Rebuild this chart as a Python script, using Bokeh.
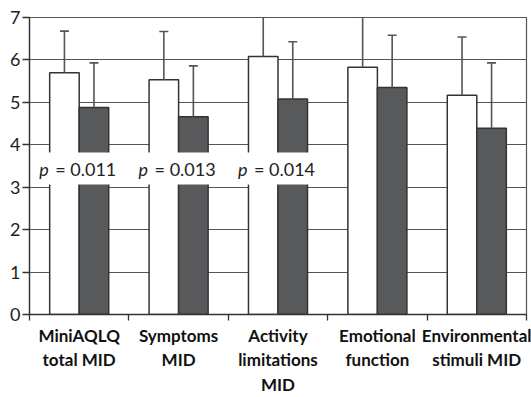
from bokeh.plotting import figure
from bokeh.models import ColumnDataSource, FixedTicker, Label
from bokeh.transform import dodge
from bokeh.embed import file_html
from bokeh.resources import INLINE

categories = ["MiniAQLQ\ntotal MID", "Symptoms\nMID", "Activity\nlimitations\nMID",
              "Emotional\nfunction", "Environmental\nstimuli MID"]
white_mean = [5.70, 5.53, 6.08, 5.83, 5.17]
white_sd = [0.98, 1.14, 1.10, 1.19, 1.37]
dark_mean = [4.88, 4.66, 5.08, 5.35, 4.39]
dark_sd = [1.05, 1.20, 1.35, 1.23, 1.54]
p_values = ["0.011", "0.013", "0.014", None, None]
y_ticks = [0, 1, 2, 3, 4, 5, 6, 7]

n = len(categories)
xc = [i + 0.5 for i in range(n)]
src = ColumnDataSource(dict(
    x=xc,
    wm=white_mean, wt=[m + s for m, s in zip(white_mean, white_sd)],
    dm=dark_mean, dt=[m + s for m, s in zip(dark_mean, dark_sd)],
))

FONT = "Lato"
p = figure(width=531, height=397, x_range=(0, n), y_range=(0, 7),
           output_backend="svg", toolbar_location=None,
           min_border_left=29, min_border_right=5, min_border_top=17, min_border_bottom=10)

BW = 0.297
p.vbar(x=dodge("x", -BW / 2), top="wm", bottom=0, width=BW, source=src,
       fill_color="white", line_color="#333333", line_width=1.5)
p.vbar(x=dodge("x", BW / 2), top="dm", bottom=0, width=BW, source=src,
       fill_color="#58595b", line_color="#333333", line_width=1.5)

for col_m, col_t, off in (("wm", "wt", -BW / 2), ("dm", "dt", BW / 2)):
    p.segment(x0=dodge("x", off), y0=col_m, x1=dodge("x", off), y1=col_t, source=src,
              line_color="#555555", line_width=1.6)
    p.scatter(x=dodge("x", off), y=col_t, marker="dash", size=9, source=src,
              line_color="#555555", line_width=1.6)

for i, pv in enumerate(p_values):
    if pv is None:
        continue
    lab1 = Label(x=xc[i], y=3.44, text="p", text_font=FONT, text_font_style="italic",
                 text_font_size="18px", text_color="#222222", text_baseline="middle",
                 text_align="left", x_offset=-45, background_fill_color="white",
                 padding=5)
    lab2 = Label(x=xc[i], y=3.44, text="= " + pv, text_font=FONT,
                 text_font_size="18px", text_color="#222222", text_baseline="middle",
                 text_align="left", x_offset=-29, background_fill_color="white",
                 padding=5)
    p.add_layout(lab1)
    p.add_layout(lab2)

# y axis
p.yaxis.ticker = FixedTicker(ticks=y_ticks)
p.yaxis.minor_tick_line_color = None
p.yaxis.major_tick_out = 7
p.yaxis.major_tick_in = 0
p.yaxis.major_label_standoff = 2
p.yaxis.axis_line_color = "#333333"
p.yaxis.major_tick_line_color = "#333333"
p.yaxis.axis_line_width = 1.3
p.yaxis.major_tick_line_width = 1.3
p.yaxis.major_label_text_font = FONT
p.yaxis.major_label_text_font_size = "18px"
p.yaxis.major_label_text_color = "#222222"

# x axis: labels at centers, ticks at boundaries
p.xaxis.ticker = FixedTicker(ticks=xc, minor_ticks=list(range(n + 1)))
p.xaxis.major_label_overrides = {x: c for x, c in zip(xc, categories)}
p.xaxis.major_tick_line_color = None
p.xaxis.major_tick_out = 0
p.xaxis.major_tick_in = 0
p.xaxis.minor_tick_out = 6
p.xaxis.minor_tick_in = 0
p.xaxis.minor_tick_line_color = "#333333"
p.xaxis.minor_tick_line_width = 1.3
p.xaxis.axis_line_color = "#333333"
p.xaxis.axis_line_width = 1.3
p.xaxis.major_label_standoff = 4
p.xaxis.major_label_text_font = FONT
p.xaxis.major_label_text_font_style = "bold"
p.xaxis.major_label_text_font_size = "17px"
p.xaxis.major_label_text_color = "#111111"
p.xaxis.major_label_text_line_height = 1.17

p.xgrid.grid_line_color = None
p.ygrid.ticker = FixedTicker(ticks=y_ticks)
p.ygrid.grid_line_color = "#555555"
p.ygrid.grid_line_width = 1.2
p.outline_line_color = "#555555"
p.outline_line_width = 1.2

open("out.html", "w").write(file_html(p, INLINE))
